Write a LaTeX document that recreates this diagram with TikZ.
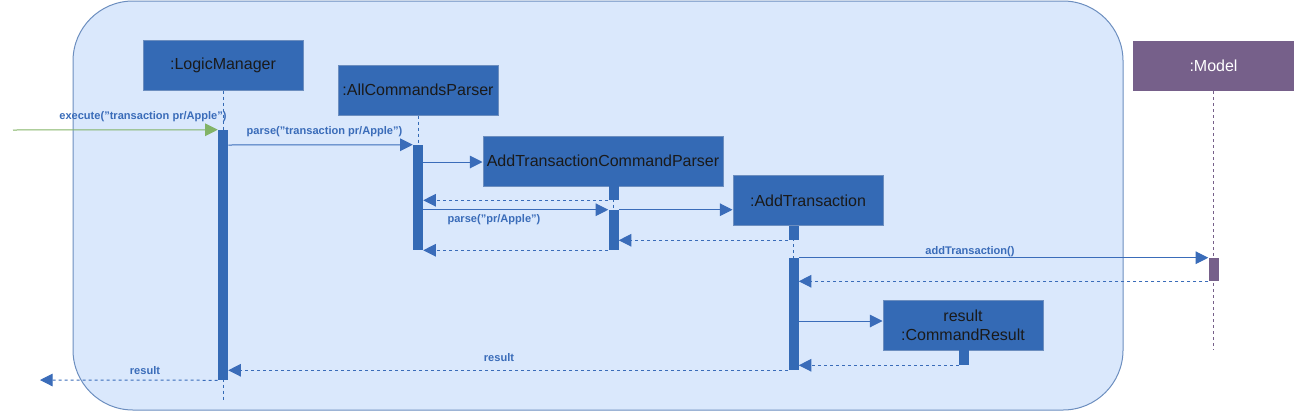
\documentclass[tikz,border=0pt]{standalone}
\usepackage{fontspec}
\setmainfont{Liberation Sans}
\usetikzlibrary{arrows.meta}
\definecolor{bgfill}{RGB}{218,232,252}
\definecolor{bgline}{RGB}{108,142,191}
\definecolor{boxfill}{RGB}{52,106,181}
\definecolor{msgblue}{RGB}{58,108,185}
\definecolor{modelfill}{RGB}{118,96,138}
\definecolor{greenarrow}{RGB}{130,179,102}
\definecolor{boxtext}{RGB}{26,26,26}
\begin{document}
\begin{tikzpicture}[x=0.75pt,y=-0.75pt,
  obj/.style={draw=bgline, line width=0.75pt, fill=boxfill, minimum height=37.5pt, inner sep=0pt,
    font=\fontsize{12}{14.5}\selectfont, text=boxtext, align=center},
  act/.style={fill=boxfill, minimum width=7.5pt, inner sep=0pt},
  life/.style={draw=boxfill, line width=0.75pt, dash pattern=on 2.25pt off 2.25pt},
  tip/.style={-{Triangle[length=9.5pt,width=9.5pt]}},
  call/.style={draw=msgblue, line width=0.75pt, tip},
  ret/.style={draw=msgblue, line width=0.75pt, dash pattern=on 2.25pt off 2.25pt, tip},
  lbl/.style={text=msgblue, font=\fontsize{8.3}{10}\selectfont\bfseries, inner sep=0pt}
]
\useasboundingbox (0,0) rectangle (1294,411);
\draw[bgline, line width=0.75pt, fill=bgfill, rounded corners=45pt] (73,1) rectangle (1123,410);

% objects
\node[obj, minimum width=120pt] (lm) at (223,65) {:LogicManager};
\node[obj, minimum width=120pt] (acp) at (418,90) {:AllCommandsParser};
\node[obj, minimum width=180pt] (atcp) at (603,161) {AddTransactionCommandParser};
\node[obj, minimum width=112.5pt] (at) at (808,200.5) {:AddTransaction};
\node[obj, draw=none, fill=modelfill, text=white, minimum width=120.75pt] (model) at (1213.5,65.5) {:Model};
\node[obj, minimum width=120pt] (cr) at (963,325) {result\\:CommandResult};

% coordinates
\coordinate (lmEnd) at (223,400);
\coordinate (mEnd) at (1213.5,350);
\coordinate (start) at (13,130);
\coordinate (outEnd) at (40,380);

% activation bars (positions)
\path
  (223,255) coordinate (plmA)
  (418,197.5) coordinate (pacpA)
  (613.5,193) coordinate (patcpA1)
  (613.5,230) coordinate (patcpA2)
  (793.5,233) coordinate (patA1)
  (793.5,314) coordinate (patA2)
  (1213.5,269.5) coordinate (pmA)
  (964,357.5) coordinate (pcrA);

% lifelines
\draw[life] (plmA |- lm.south) -- (lmEnd);
\draw[life] (pacpA |- acp.south) -- (pacpA);
\draw[life] (patcpA1 |- atcp.south) -- (patcpA2);
\draw[life] (patA1 |- at.south) -- (patA2);
\draw[life, draw=modelfill] (model.south) -- (mEnd);
\draw[life] (pcrA |- cr.south) -- (pcrA);

\node[act, minimum height=187.5pt] (lmA) at (plmA) {};
\node[act, minimum height=78.75pt] (acpA) at (pacpA) {};
\node[act, minimum height=10.5pt] (atcpA1) at (patcpA1) {};
\node[act, minimum height=30pt] (atcpA2) at (patcpA2) {};
\node[act, minimum height=10.5pt] (atA1) at (patA1) {};
\node[act, minimum height=84pt] (atA2) at (patA2) {};
\node[act, fill=modelfill, minimum height=17.25pt] (mA) at (pmA) {};
\node[act, minimum height=11.25pt] (crA) at (pcrA) {};

% messages
\draw[call, draw=greenarrow, -{Triangle[length=9.5pt,width=9.5pt,fill=greenarrow]}] (start) -- (lmA.north west);
\draw[call] (lmA.east |- 0,145) -- (acpA.north west);
\draw[call] (acpA.east |- 0,162) -- (atcp.west |- 0,162);
\draw[ret] (atcpA1.south west) -- (acpA.east |- atcpA1.south);
\draw[call] (acpA.east |- atcpA2.north) -- (atcpA2.north west);
\draw[call] (atcpA2.north east) -- (at.west |- atcpA2.north);
\draw[ret] (atA1.south west) -- (atcpA2.east |- atA1.south);
\draw[ret] (atcpA2.south west) -- (acpA.east |- atcpA2.south);
\draw[call] (atA2.north east) -- (mA.north west);
\draw[ret] (mA.south west) -- (atA2.east |- mA.south);
\draw[call] (atA2.east |- 0,321) -- (cr.west |- 0,321);
\draw[ret] (crA.south west) -- (atA2.east |- crA.south);
\draw[ret] (atA2.south west) -- (lmA.east |- atA2.south);
\draw[ret] (lmA.south west) -- (outEnd);

% labels
\node[lbl] (l1) at (143,117) {execute(\symbol{34}transaction pr/Apple\symbol{34})};
\node[lbl] (l2) at (324.5,132) {parse(\symbol{34}transaction pr/Apple\symbol{34})};
\node[lbl] (l3) at (494,220) {parse(\symbol{34}pr/Apple\symbol{34})};
\node[lbl] (l4) at (970,252) {addTransaction()};
\node[lbl] (l5) at (499,358) {result};
\node[lbl] (l6) at (145,371) {result};
\end{tikzpicture}
\end{document}
